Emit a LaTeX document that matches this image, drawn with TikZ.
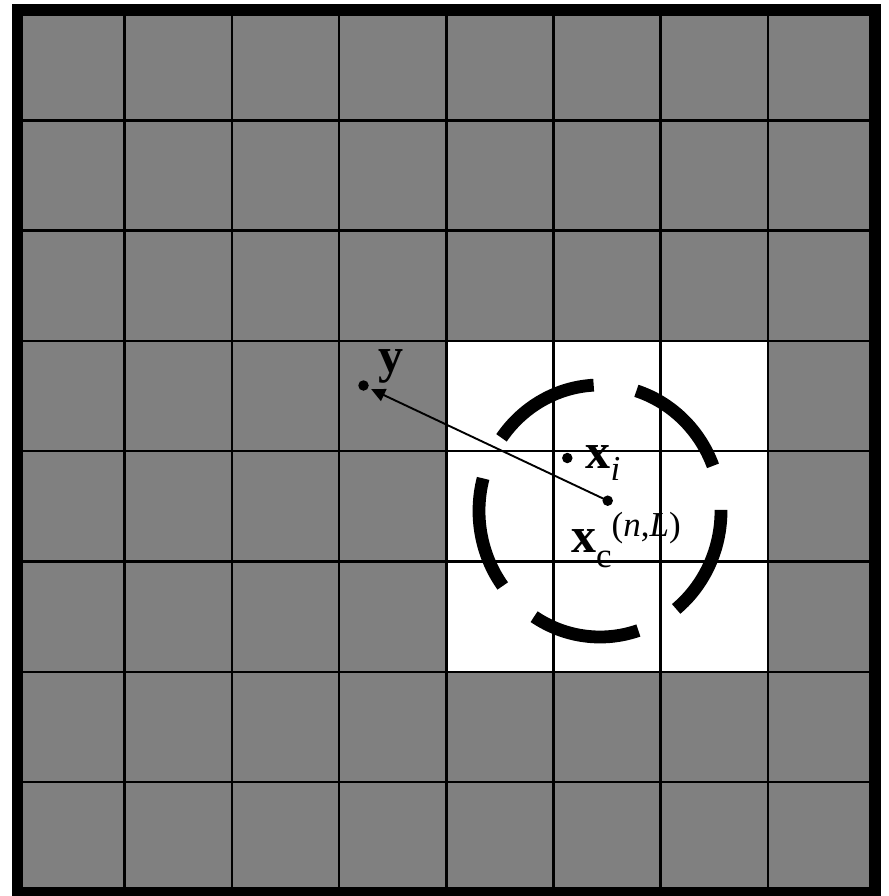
\documentclass[tikz,border=0pt]{standalone}
\usepackage{fontspec}
\setmainfont{Liberation Serif}
\usetikzlibrary{arrows.meta}
\definecolor{cellgray}{RGB}{128,128,128}
\tikzset{
  gridline/.style={line width=2.5pt, black},
  frameline/.style={line width=11.5pt, black},
  ringdash/.style={line width=12.8pt, black, line cap=butt},
  dotnode/.style={circle, fill=black, inner sep=0pt, minimum size=10.5pt},
  lbl/.style={inner sep=0pt, anchor=base west},
  vec/.style={line width=1.9pt, -{Triangle[length=14pt,width=13pt]}}
}
\newcommand{\bigb}{\fontsize{50}{50}\selectfont\bfseries}
\newcommand{\smallt}{\fontsize{35}{35}\selectfont}
\begin{document}
\begin{tikzpicture}[x=1pt,y=-1pt]
\useasboundingbox (0,0) rectangle (888,896);
\def\gx{17.5}\def\gy{10}\def\cw{107.2}\def\ch{110.3}
% cells
\fill[cellgray] (\gx,\gy) rectangle (\gx+8*\cw,\gy+8*\ch);
\fill[white] (\gx+4*\cw,\gy+3*\ch) rectangle (\gx+7*\cw,\gy+6*\ch);
% grid lines
\foreach \k in {1,...,7}{
  \draw[gridline] (\gx+\k*\cw,\gy) -- (\gx+\k*\cw,\gy+8*\ch);
  \draw[gridline] (\gx,\gy+\k*\ch) -- (\gx+8*\cw,\gy+\k*\ch);
}
\draw[frameline] (\gx,\gy) rectangle (\gx+8*\cw,\gy+8*\ch);
% dashed ring
\coordinate (cc) at (600,511);
\foreach \a in {21,93,165,237,309}{
  \draw[ringdash] (cc) ++(-\a:121 and 126) arc[start angle=-\a, end angle=-\a-51.5, x radius=121, y radius=126];
}
% points
\node[dotnode] (ydot) at (363.5,385.5) {};
\node[dotnode] (xidot) at (567.3,458) {};
\node[dotnode] (xcdot) at (607.7,500.7) {};
\draw[vec, shorten >=3pt] (xcdot.center) -- (ydot);
% labels
\node[lbl] (ylbl) at (378,372) {\bigb y};
\node[lbl] (xilbl) at (585.5,468.3) {{\bigb x}\raisebox{-12pt}{\smallt\itshape i}};
\node[lbl] (xclbl) at (571,552) {{\bigb x}\raisebox{-15pt}{\smallt c}\raisebox{16pt}{\smallt(\textit{n},\textit{L})}};
\end{tikzpicture}
\end{document}
